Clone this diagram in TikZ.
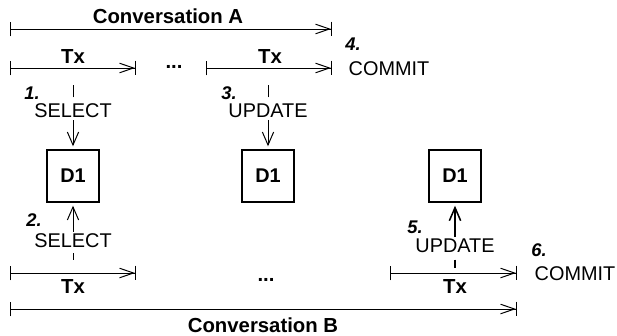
\documentclass[tikz,border=0pt]{standalone}
\usepackage{fontspec}
\setmainfont{Liberation Sans}
\usetikzlibrary{positioning,arrows.meta}

\begin{document}
\begin{tikzpicture}[
x=0.023cm,y=-0.023cm,line width=0.65pt,
span/.style={{Bar[width=3.4mm]}-{Straight Barb[length=3.2mm,width=2.2mm]Bar[width=3.4mm]}},
arrow/.style={-{Straight Barb[length=3mm,width=2.6mm]},shorten >=2pt},
dbox/.style={rectangle,draw,line width=0.9pt,minimum size=34pt,inner sep=0pt,
font=\fontsize{13}{15}\selectfont\bfseries},
title/.style={font=\fontsize{13.3}{15}\selectfont\bfseries,inner sep=1pt},
stmt/.style={font=\fontsize{13}{15}\selectfont,inner sep=1pt},
num/.style={font=\fontsize{12}{14}\selectfont\bfseries\itshape,inner sep=0pt}
]
\useasboundingbox (0,0) rectangle (617,335);
% conversation A
\node[title] (convA) at (168,16) {Conversation A};
\coordinate (a0) at (10,29); \coordinate (a1) at (332,29);
\draw[span] (a0) -- (a1);
\node[title] (txA1) at (73,57) {Tx};
\node[title] (txA2) at (270,57) {Tx};
\node[title] (dotsA) at (174,67) {...};
\coordinate (ta0) at (10,68); \coordinate (ta1) at (136,68);
\coordinate (ta2) at (206,68); \coordinate (ta3) at (332,68);
\draw[span] (ta0) -- (ta1); \draw[span] (ta2) -- (ta3);
\node[num] (n4) at (353,44) {4.};
\node[stmt] (comA) at (389,69) {COMMIT};
\node[num] (n1) at (32,93) {1.};
\node[stmt] (selA) at (73,111) {SELECT};
\node[num] (n3) at (229,93) {3.};
\node[stmt] (updA) at (268,111) {UPDATE};
\draw ([yshift=3pt]selA.north) -- ++(0,-12);
\draw ([yshift=3pt]updA.north) -- ++(0,-12);
% data items
\node[dbox] (d1a) at (73,176) {D1};
\node[dbox] (d1b) at (268,176) {D1};
\node[dbox] (d1c) at (455,176) {D1};
\draw[arrow] (selA) -- (d1a);
\draw[arrow] (updA) -- (d1b);
% conversation B
\node[num] (n2) at (34,220) {2.};
\node[stmt] (selB) at (73,241) {SELECT};
\node[num] (n5) at (415,227) {5.};
\node[stmt] (updB) at (455,246) {UPDATE};
\draw[arrow] (selB) -- (d1a);
\draw[arrow,line width=1pt] (updB) -- (d1c);
\draw ([yshift=-2pt]selB.south) -- ++(0,7);
\draw[line width=1pt] ([yshift=-3pt]updB.south) -- ++(0,8);
\coordinate (tb0) at (10,273); \coordinate (tb1) at (136,273);
\coordinate (tb2) at (390,273); \coordinate (tb3) at (517,273);
\draw[span] (tb0) -- (tb1); \draw[span] (tb2) -- (tb3);
\node[title] (txB1) at (73,286) {Tx};
\node[title] (txB2) at (455,286) {Tx};
\node[title] (dotsB) at (266,280) {...};
\node[num] (n6) at (539,250) {6.};
\node[stmt] (comB) at (575,274) {COMMIT};
\coordinate (b0) at (10,309); \coordinate (b1) at (517,309);
\draw[span] (b0) -- (b1);
\node[title] (convB) at (263,325) {Conversation B};
\end{tikzpicture}
\end{document}
